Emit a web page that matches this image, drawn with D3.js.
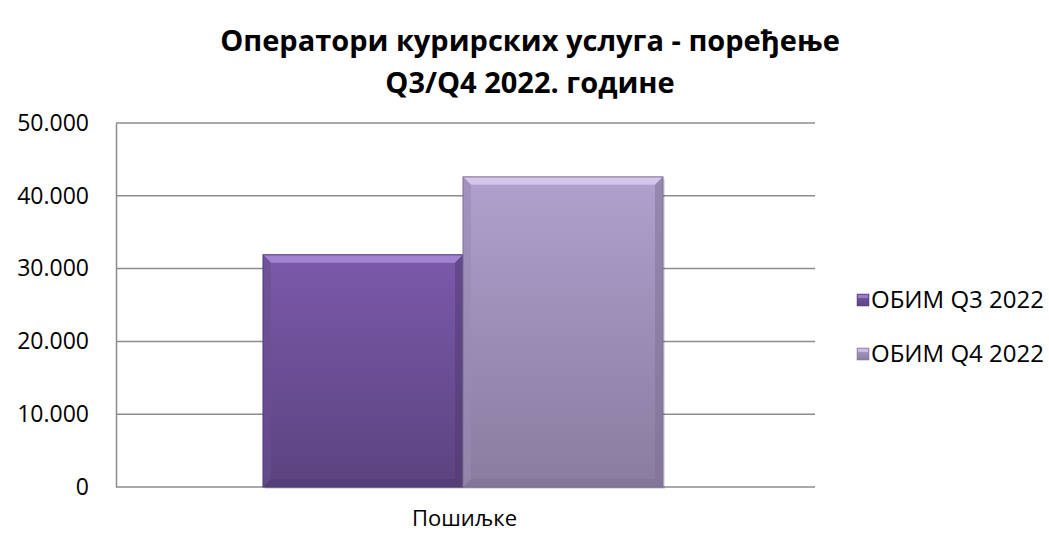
<!DOCTYPE html>
<html><head><meta charset="utf-8">
<script src="https://cdn.jsdelivr.net/npm/d3@7"></script>
<style>body{margin:0;background:#fff}svg{display:block}text{font-family:"Open Sans",sans-serif;fill:#000}</style>
</head><body><svg id="c" width="1049" height="533"></svg>
<script>
const categories = ["Пошиљке"];
const seriesNames = ["ОБИМ Q3 2022", "ОБИМ Q4 2022"];
const seriesValues = [31900, 42600];
const tickValues = [0, 10000, 20000, 30000, 40000, 50000];
const tickLabels = ["0", "10.000", "20.000", "30.000", "40.000", "50.000"];
const titleLines = ["Оператори курирских услуга - поређење", "Q3/Q4 2022. годинe"];

const svg = d3.select("#c");
const L = 116, R = 815, T = 123, B = 487;
const y = d3.scaleLinear().domain([0, 50000]).range([B, T]);
const x0 = d3.scaleBand().domain(categories).range([L, R]);
// Bars occupy the middle of the category band
const inner = d3.scaleBand().domain(seriesNames).range([x0(categories[0]) + 147, x0(categories[0]) + 147 + 400]);

const defs = svg.append("defs");
const cols = [
  {top:"#7b59ab", bot:"#5b437f", light:"#a98bd6", side:"#6a4f93", edge:"#4f3a70"},
  {top:"#afa0cd", bot:"#8a7ba0", light:"#d9ccf0", side:"#9a8bb2", edge:"#7d6f92"}
];
cols.forEach((c,i)=>{
  const g = defs.append("linearGradient").attr("id","g"+i).attr("x1",0).attr("y1",0).attr("x2",0).attr("y2",1);
  g.append("stop").attr("offset","0%").attr("stop-color",c.top);
  g.append("stop").attr("offset","100%").attr("stop-color",c.bot);
});

// title
svg.append("g").selectAll("text").data(titleLines).join("text")
  .attr("x", 530).attr("y", (d,i)=>51 + i*42).attr("text-anchor","middle")
  .attr("font-size", 29).attr("font-weight","bold").text(d=>d);

// gridlines
svg.append("g").selectAll("line").data(tickValues).join("line")
  .attr("x1", L).attr("x2", R).attr("y1", d=>y(d)).attr("y2", d=>y(d))
  .attr("stroke", "#8c8c8c").attr("stroke-width", 1.5);

// y axis
const yAxis = d3.axisLeft(y).tickValues(tickValues).tickFormat((d,i)=>tickLabels[i]).tickSize(0).tickPadding(27);
const ga = svg.append("g").attr("transform", `translate(${L},0)`).call(yAxis);
ga.select(".domain").attr("stroke","#8c8c8c").attr("stroke-width",1.5);
ga.selectAll("text").attr("font-size", 23).attr("font-family", '"Open Sans",sans-serif').attr("fill","#000");

// bars
const bw = 8;
seriesValues.forEach((v,i)=>{
  const c = cols[i];
  const bx = inner(seriesNames[i]), w = inner.bandwidth(), by = y(v), h = B - by;
  const g = svg.append("g");
  g.append("rect").attr("x", bx+2).attr("y", by+2).attr("width", w).attr("height", h).attr("fill","#000").attr("opacity",0.12);
  g.append("rect").attr("x", bx).attr("y", by).attr("width", w).attr("height", h).attr("fill", `url(#g${i})`);
  g.append("polygon").attr("points", [[bx,by],[bx+w,by],[bx+w-bw,by+bw],[bx+bw,by+bw]].join(" ")).attr("fill", c.light).attr("opacity",0.85);
  g.append("polygon").attr("points", [[bx,by],[bx+bw,by+bw],[bx+bw,B-bw],[bx,B]].join(" ")).attr("fill", c.side).attr("opacity",0.6);
  g.append("polygon").attr("points", [[bx+w,by],[bx+w-bw,by+bw],[bx+w-bw,B-bw],[bx+w,B]].join(" ")).attr("fill", c.edge).attr("opacity",0.5);
  g.append("polygon").attr("points", [[bx,B],[bx+bw,B-bw],[bx+w-bw,B-bw],[bx+w,B]].join(" ")).attr("fill", c.edge).attr("opacity",0.5);
  g.append("rect").attr("x", bx).attr("y", by).attr("width", w).attr("height", h).attr("fill","none").attr("stroke", c.edge).attr("stroke-width",1);
});

// x label
svg.append("g").selectAll("text").data(categories).join("text")
  .attr("x", d=>x0(d)+x0.bandwidth()/2 - 1).attr("y", 526).attr("text-anchor","middle")
  .attr("font-size", 22).text(d=>d);

// legend
const lg = svg.append("g").selectAll("g").data(seriesNames).join("g")
  .attr("transform", (d,i)=>`translate(857,${294 + i*54})`);
lg.append("rect").attr("width", 12).attr("height", 12).attr("fill", (d,i)=>`url(#g${i})`).attr("stroke",(d,i)=>cols[i].edge).attr("stroke-width",0.5);
lg.append("rect").attr("x",1).attr("y",1).attr("width", 10).attr("height", 3).attr("fill", (d,i)=>cols[i].light).attr("opacity",0.7);
lg.append("text").attr("x", 14).attr("y", 14).attr("font-size", 24).text(d=>d);
</script></body></html>
